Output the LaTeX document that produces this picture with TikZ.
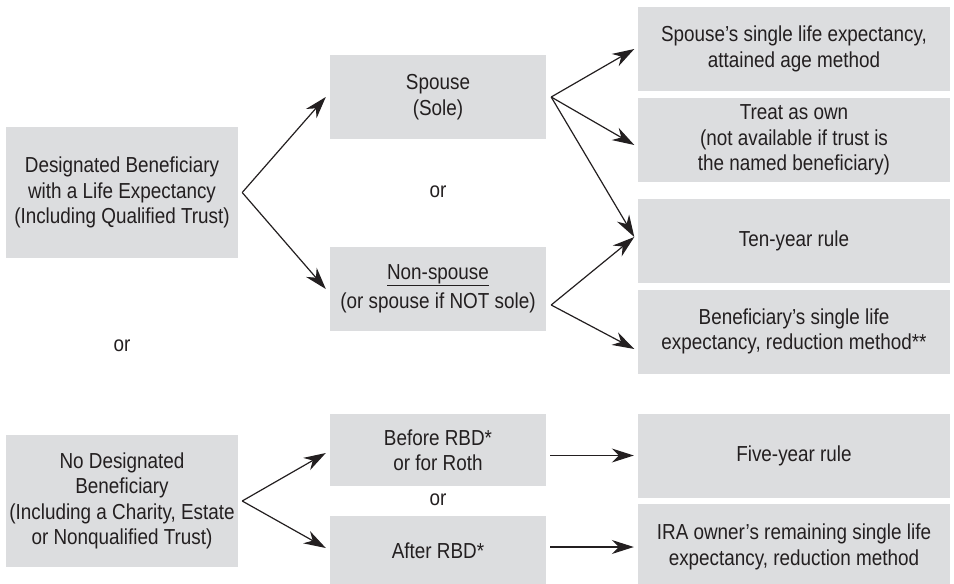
\documentclass[tikz,border=0pt]{standalone}
\usepackage{fontspec}
\setmainfont[FakeStretch=0.87]{Liberation Sans}
\usetikzlibrary{arrows.meta,calc}
\definecolor{boxgray}{RGB}{220,221,223}
\definecolor{ink}{RGB}{35,31,32}
\begin{document}
\begin{tikzpicture}[x=1pt,y=-1pt,
  every node/.style={text=ink,font=\fontsize{21.7}{25.5}\selectfont},
  gbox/.style={fill=boxgray,draw=none,inner sep=0pt,align=center},
  arr/.style={draw=ink,line width=1.2pt,-{Stealth[length=22pt,width=14pt,inset=7pt]}},
  ortext/.style={inner sep=0pt}]
\useasboundingbox (0,0) rectangle (954,584);
% left column
\node[gbox,minimum width=232pt,minimum height=131pt] (db) at (122,192.5)
  {Designated Beneficiary\\with a Life Expectancy\\(Including Qualified Trust)};
\node[gbox,minimum width=232pt,minimum height=132pt] (nd) at (122,501)
  {No Designated\\Beneficiary\\(Including a Charity, Estate\\or Nonqualified Trust)};
\node[ortext] (or1) at (122,346) {or};
% middle column
\node[gbox,minimum width=216pt,minimum height=84pt] (sp) at (438,97)
  {Spouse\\(Sole)};
\node[gbox,minimum width=216pt,minimum height=84pt] (ns) at (438,289)
  {\underline{Non-spouse}\\[4pt](or spouse if NOT sole)};
\node[ortext] (or2) at (438,192) {or};
\node[gbox,minimum width=216pt,minimum height=72pt] (bf) at (438,450)
  {Before RBD*\\or for Roth};
\node[ortext] (or3) at (438,500) {or};
\node[gbox,minimum width=216pt,minimum height=70pt] (af) at (438,551)
  {After RBD*};
% right column
\node[gbox,minimum width=312pt,minimum height=84pt] (r1) at (794,49)
  {Spouse’s single life expectancy,\\attained age method};
\node[gbox,minimum width=312pt,minimum height=84pt] (r2) at (794,140)
  {Treat as own\\(not available if trust is\\the named beneficiary)};
\node[gbox,minimum width=312pt,minimum height=84pt] (r3) at (794,241)
  {Ten-year rule};
\node[gbox,minimum width=312pt,minimum height=84pt] (r4) at (794,331.5)
  {Beneficiary’s single life\\expectancy, reduction method**};
\node[gbox,minimum width=312pt,minimum height=84pt] (r5) at (794,455.5)
  {Five-year rule};
\node[gbox,minimum width=312pt,minimum height=86pt] (r6) at (794,547)
  {IRA owner’s remaining single life\\expectancy, reduction method};
% apex coordinates
\coordinate (dbx) at ([xshift=4pt]db.east);
\coordinate (ndx) at ([xshift=4pt]nd.east);
\coordinate (spx) at ([xshift=5pt]sp.east);
\coordinate (nsx) at ([xshift=5pt,yshift=-16pt]ns.east);
\coordinate (bfx) at ([xshift=4pt]bf.east);
\coordinate (afx) at ([xshift=4pt]af.east);
% arrows
\draw[arr] (dbx) -- ([xshift=-4pt]sp.west);
\draw[arr] (dbx) -- ([xshift=-4pt]ns.west);
\draw[arr] (ndx) -- ([xshift=-4pt,yshift=-3pt]bf.west);
\draw[arr] (ndx) -- ([xshift=-4pt,yshift=3pt]af.west);
\draw[arr] (spx) -- ([xshift=-3.5pt]r1.west);
\draw[arr] (spx) -- ([xshift=-3.5pt,yshift=-5pt]r2.west);
\draw[arr] (spx) -- ([xshift=-3.5pt,yshift=4pt]r3.west);
\draw[arr] (nsx) -- ([xshift=-3.5pt,yshift=4pt]r3.west);
\draw[arr] (nsx) -- ([xshift=-3.5pt,yshift=-17.5pt]r4.west);
\draw[arr] (bfx |- r5.west) -- ([xshift=-4pt]r5.west);
\draw[arr] (afx |- r6.west) -- ([xshift=-4pt]r6.west);
\end{tikzpicture}
\end{document}
